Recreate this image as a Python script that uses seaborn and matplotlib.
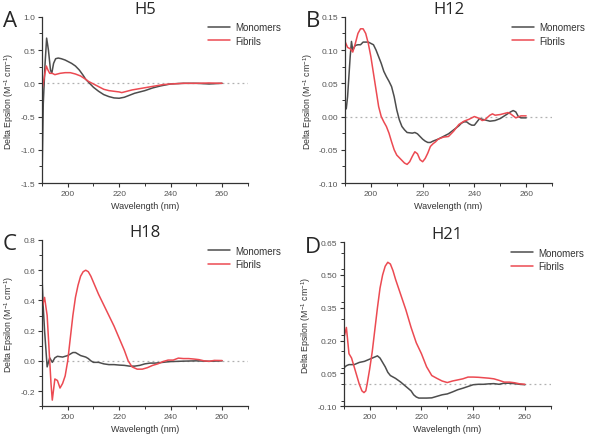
import numpy as np
import pandas as pd
import matplotlib
matplotlib.use("Agg")
import matplotlib.pyplot as plt
import seaborn as sns
from matplotlib.ticker import MultipleLocator

# ---------------- data ----------------
# Panel A: H5
h5_mono_x = [190, 190.5, 191.2, 191.8, 192.5, 193.3, 193.8, 194.5, 195.3, 196.3, 197.5, 199, 200, 201.5, 203, 204.5, 206, 207, 208, 209, 210, 212, 214, 216, 218, 220, 222, 224, 226, 228, 230, 233, 236, 240, 245, 250, 255, 260]
h5_mono_y = [-1.45, -0.3, 0.3, 0.68, 0.5, 0.2, 0.15, 0.3, 0.37, 0.38, 0.37, 0.35, 0.33, 0.3, 0.26, 0.2, 0.12, 0.06, 0.02, -0.02, -0.06, -0.12, -0.17, -0.2, -0.22, -0.225, -0.21, -0.18, -0.15, -0.13, -0.11, -0.07, -0.04, -0.01, 0.0, 0.0, -0.01, 0.0]
h5_fib_x = [190, 190.5, 191, 191.7, 192.3, 193, 194, 195, 196, 197, 199, 201, 203, 205, 207, 208, 210, 212, 214, 216, 218, 220, 221, 223, 225, 228, 231, 234, 237, 240, 245, 250, 255, 260]
h5_fib_y = [-0.1, 0.0, 0.12, 0.26, 0.2, 0.15, 0.15, 0.13, 0.14, 0.15, 0.16, 0.16, 0.14, 0.11, 0.06, 0.03, -0.01, -0.05, -0.09, -0.11, -0.12, -0.13, -0.14, -0.12, -0.1, -0.08, -0.06, -0.04, -0.02, -0.01, 0.0, 0.0, 0.005, 0.0]

# Panel B: H12
h12_mono_x = [190, 190.5, 191, 192, 192.5, 193, 194, 195, 196, 197, 198, 199, 200, 201, 202, 203, 204, 205, 206, 207, 208, 209, 210, 211, 212, 213, 214, 216, 217, 218, 219, 220, 221, 222, 223, 224, 226, 228, 230, 232, 234, 235, 236, 237, 238, 239, 240, 241, 242, 243, 244, 246, 248, 250, 252, 254, 255, 256, 257, 258, 260]
h12_mono_y = [0.01, 0.012, 0.03, 0.09, 0.113, 0.10, 0.107, 0.108, 0.108, 0.112, 0.112, 0.112, 0.11, 0.108, 0.10, 0.09, 0.08, 0.068, 0.06, 0.053, 0.045, 0.03, 0.01, -0.005, -0.015, -0.02, -0.024, -0.025, -0.024, -0.026, -0.03, -0.034, -0.037, -0.039, -0.039, -0.037, -0.034, -0.03, -0.026, -0.02, -0.014, -0.01, -0.008, -0.008, -0.011, -0.013, -0.013, -0.008, -0.003, -0.004, -0.005, -0.007, -0.006, -0.003, 0.002, 0.007, 0.009, 0.007, 0.0, -0.002, -0.002]
h12_fib_x = [190, 191, 192, 193, 194, 195, 196, 197, 198, 199, 200, 201, 202, 203, 204, 205, 206, 207, 208, 209, 210, 211, 212, 213, 214, 215, 216, 217, 218, 219, 220, 221, 222, 223, 224, 225, 226, 228, 230, 232, 234, 236, 238, 240, 242, 243, 244, 246, 247, 248, 250, 252, 253, 254, 256, 258, 260]
h12_fib_y = [0.113, 0.104, 0.102, 0.097, 0.11, 0.125, 0.132, 0.132, 0.125, 0.11, 0.09, 0.065, 0.04, 0.015, 0.0, -0.008, -0.015, -0.025, -0.038, -0.05, -0.058, -0.062, -0.066, -0.07, -0.072, -0.068, -0.06, -0.053, -0.056, -0.065, -0.068, -0.063, -0.055, -0.045, -0.041, -0.038, -0.034, -0.031, -0.03, -0.022, -0.012, -0.007, -0.004, 0.0, -0.003, -0.006, -0.005, 0.002, 0.004, 0.002, 0.003, 0.005, 0.006, 0.004, -0.002, 0.001, 0.001]

# Panel C: H18
h18_mono_x = [190, 190.5, 191, 192, 193, 194, 195, 196, 198, 200, 202, 203, 204, 205, 206, 207, 208, 209, 210, 212, 214, 216, 218, 220, 222, 224, 226, 228, 230, 232, 234, 236, 238, 240, 245, 250, 255, 260]
h18_mono_y = [0.55, 0.35, 0.2, -0.04, 0.02, -0.01, 0.02, 0.03, 0.025, 0.035, 0.055, 0.055, 0.045, 0.035, 0.03, 0.025, 0.015, 0.0, -0.01, -0.01, -0.02, -0.025, -0.025, -0.028, -0.03, -0.035, -0.035, -0.03, -0.02, -0.015, -0.015, -0.012, -0.008, -0.005, -0.002, 0.0, -0.003, 0.0]
h18_fib_x = [190, 191, 192, 193, 193.5, 194, 195, 196, 197, 198, 199, 200, 201, 202, 203, 204, 205, 206, 207, 208, 209, 210, 212, 214, 216, 218, 220, 222, 223.5, 225, 227, 229, 231, 233, 235, 237, 239, 241, 243, 245, 247, 249, 251, 253, 255, 257, 260]
h18_fib_y = [0.35, 0.42, 0.3, 0.0, -0.15, -0.26, -0.12, -0.13, -0.18, -0.15, -0.1, 0.0, 0.15, 0.3, 0.42, 0.5, 0.56, 0.59, 0.6, 0.59, 0.56, 0.52, 0.44, 0.37, 0.3, 0.23, 0.15, 0.07, 0.0, -0.04, -0.055, -0.055, -0.045, -0.03, -0.02, -0.005, 0.005, 0.005, 0.018, 0.015, 0.015, 0.012, 0.008, 0.0, -0.003, 0.003, 0.002]

# Panel D: H21
h21_mono_x = [190, 191, 192, 194, 196, 198, 200, 202, 203, 204, 205, 206, 207, 208, 210, 212, 214, 216, 217, 218, 219, 220, 222, 224, 226, 228, 230, 232, 234, 236, 238, 240, 242, 244, 246, 248, 250, 252, 254, 256, 258, 260]
h21_mono_y = [0.075, 0.085, 0.09, 0.09, 0.1, 0.105, 0.115, 0.125, 0.13, 0.12, 0.1, 0.08, 0.055, 0.04, 0.027, 0.01, -0.01, -0.03, -0.048, -0.058, -0.063, -0.063, -0.063, -0.062, -0.055, -0.048, -0.044, -0.035, -0.025, -0.018, -0.01, -0.002, 0.0, 0.0, 0.002, 0.003, 0.0, 0.005, 0.005, 0.003, 0.0, -0.002]
h21_fib_x = [190, 191, 192, 193, 194, 195, 196, 197, 197.8, 198.5, 199, 200, 201, 202, 203, 204, 205, 206, 207, 208, 209, 210, 212, 214, 216, 218, 220, 222, 224, 226, 228, 230, 232, 234, 236, 238, 240, 242, 244, 246, 248, 250, 252, 254, 256, 258, 260]
h21_fib_y = [0.21, 0.26, 0.14, 0.12, 0.08, 0.04, 0.0, -0.03, -0.038, -0.03, 0.0, 0.07, 0.15, 0.25, 0.35, 0.44, 0.5, 0.54, 0.558, 0.55, 0.52, 0.48, 0.41, 0.34, 0.26, 0.19, 0.14, 0.08, 0.04, 0.027, 0.015, 0.008, 0.015, 0.02, 0.025, 0.033, 0.033, 0.032, 0.03, 0.028, 0.025, 0.018, 0.01, 0.01, 0.007, 0.002, 0.0]

titles = ["H5", "H12", "H18", "H21"]
letters = ["A", "B", "C", "D"]
series_names = ["Monomers", "Fibrils"]
ylims = [(-1.5, 1.0), (-0.10, 0.15), (-0.3, 0.8), (-0.10, 0.65)]
yticks_list = [
    [-1.5, -1.0, -0.5, 0.0, 0.5, 1.0],
    [-0.10, -0.05, 0.00, 0.05, 0.10, 0.15],
    [-0.2, 0.0, 0.2, 0.4, 0.6, 0.8],
    [-0.10, 0.05, 0.20, 0.35, 0.50, 0.65],
]
ytick_labels = [
    ["-1.5", "-1.0", "-0.5", "0.0", "0.5", "1.0"],
    ["-0.10", "-0.05", "0.00", "0.05", "0.10", "0.15"],
    ["-0.2", "0.0", "0.2", "0.4", "0.6", "0.8"],
    ["-0.10", "0.05", "0.20", "0.35", "0.50", "0.65"],
]
yminor = [0.25, 0.025, 0.1, 0.075]
xticks = [200, 220, 240, 260]
xtick_labels = ["200", "220", "240", "260"]

panels = [
    (h5_mono_x, h5_mono_y, h5_fib_x, h5_fib_y),
    (h12_mono_x, h12_mono_y, h12_fib_x, h12_fib_y),
    (h18_mono_x, h18_mono_y, h18_fib_x, h18_fib_y),
    (h21_mono_x, h21_mono_y, h21_fib_x, h21_fib_y),
]

# ---------------- style ----------------
sns.set_theme(style="ticks")
plt.rcParams['font.family'] = ['Liberation Sans', 'DejaVu Sans']
plt.rcParams['mathtext.fontset'] = 'custom'
plt.rcParams['mathtext.rm'] = 'Liberation Sans'
plt.rcParams['mathtext.it'] = 'Liberation Sans'

palette = {"Monomers": "#4d4d4d", "Fibrils": "#ec4a52"}

fig = plt.figure(figsize=(6.0, 4.35), dpi=100)
positions = [
    (0.070, 0.577, 0.343, 0.382),
    (0.575, 0.577, 0.345, 0.382),
    (0.070, 0.064, 0.343, 0.382),
    (0.573, 0.064, 0.345, 0.377),
]

for i, (mx, my, fx, fy) in enumerate(panels):
    ax = fig.add_axes(positions[i])
    df = pd.DataFrame({
        "Wavelength": list(mx) + list(fx),
        "Value": list(my) + list(fy),
        "Series": [series_names[0]] * len(mx) + [series_names[1]] * len(fx),
    })
    ax.axhline(0, color="#b0b0b0", lw=0.9, ls=(0, (1.5, 2.5)), zorder=0)
    sns.lineplot(data=df, x="Wavelength", y="Value", hue="Series", palette=palette,
                 estimator=None, sort=True, lw=1.1, ax=ax)
    ax.set_xlim(190, 270)
    ax.set_ylim(*ylims[i])
    ax.set_xticks(xticks)
    ax.set_xticklabels(xtick_labels)
    ax.xaxis.set_minor_locator(MultipleLocator(10))
    ax.set_yticks(yticks_list[i])
    ax.set_yticklabels(ytick_labels[i])
    ax.yaxis.set_minor_locator(MultipleLocator(yminor[i]))
    ax.tick_params(axis="both", which="major", labelsize=6, length=3, width=0.8,
                   colors="#333333", labelcolor="#555555", pad=2)
    ax.tick_params(axis="both", which="minor", length=2, width=0.7, colors="#333333")
    for s in ["top", "right"]:
        ax.spines[s].set_visible(False)
    for s in ["left", "bottom"]:
        ax.spines[s].set_color("#333333")
        ax.spines[s].set_linewidth(0.9)
    ax.set_xlabel("Wavelength (nm)", fontsize=6.5, color="#333333", labelpad=3)
    ax.set_ylabel("Delta Epsilon (M$^{-1}$ cm$^{-1}$)", fontsize=6.3, color="#333333", labelpad=3)
    ax.set_title(titles[i], fontsize=12, family=["Open Sans", "DejaVu Sans"], pad=2)
    ax.text(-0.19, 1.04, letters[i], transform=ax.transAxes, fontsize=16,
            family=["Open Sans", "DejaVu Sans"], va="top", ha="left")
    leg = ax.legend(loc="upper left", bbox_to_anchor=(0.79, 0.99), frameon=False,
                    fontsize=7, handlelength=2.2, handletextpad=0.6, labelspacing=0.35,
                    borderaxespad=0)
    for t in leg.get_texts():
        t.set_color("#333333")

fig.savefig("out.png", dpi=100)
